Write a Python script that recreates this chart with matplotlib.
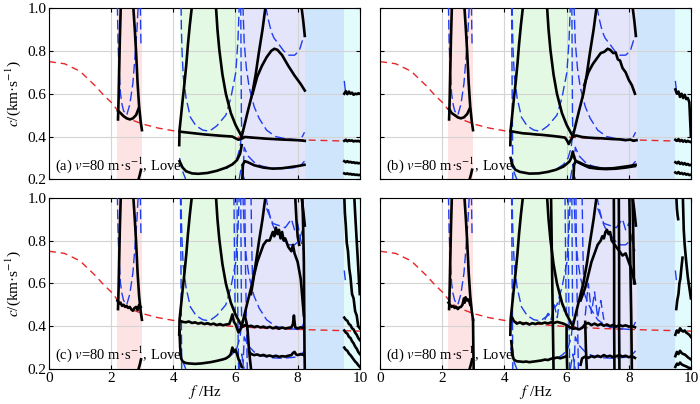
import matplotlib
matplotlib.use('Agg')
import matplotlib.pyplot as plt

plt.rcParams['font.family'] = ['Liberation Serif', 'DejaVu Serif']
plt.rcParams['mathtext.fontset'] = 'stix'

# ---- shared data -------------------------------------------------------
xticks = [0, 2, 4, 6, 8, 10]
yticks = [0.2, 0.4, 0.6, 0.8, 1.0]
panel_tags = ['(a)', '(b)', '(c)', '(d)']

band_lo = [2.2, 4.2, 6.2, 8.25, 9.5]
band_hi = [3.0, 6.2, 8.25, 9.5, 10.0]
band_colors = ['#fde3e3', '#e3f9e3', '#e4e4fb', '#cfe5fb', '#e2fbfd']

# fundamental-mode reference (red dashed)
ref_f = [0, 0.5, 1.0, 1.5, 1.75, 2.0, 2.25, 2.5, 3.0, 3.5, 4.0, 5.0, 6.0, 7.0, 8.0, 9.0, 10.0]
ref_c = [0.75, 0.74, 0.705, 0.635, 0.595, 0.56, 0.515, 0.487, 0.459, 0.44, 0.427, 0.41,
         0.398, 0.39, 0.385, 0.381, 0.377]

# black branches common to all panels
k_pink_up_f = [2.22, 2.24, 2.26, 2.28, 2.31]
k_pink_up_c = [0.48, 0.58, 0.72, 0.86, 1.01]
k_pink_down_f = [2.71, 2.76, 2.80, 2.85, 2.90, 2.95, 2.99]
k_pink_down_c = [1.01, 0.9, 0.8, 0.65, 0.54, 0.47, 0.43]
k_green_up_f = [4.19, 4.2, 4.25, 4.3, 4.36, 4.42, 4.47, 4.53, 4.6]
k_green_up_c = [0.36, 0.43, 0.5, 0.57, 0.65, 0.74, 0.83, 0.92, 1.01]
k_green_down_f = [5.37, 5.42, 5.48, 5.58, 5.69, 5.85, 6.0, 6.2]
k_green_down_c = [1.01, 0.9, 0.805, 0.69, 0.6, 0.51, 0.455, 0.40]
k_lav_up_f = [6.2, 6.3, 6.4, 6.54, 6.65, 6.75, 6.87, 6.97]
k_lav_up_c = [0.40, 0.46, 0.52, 0.6, 0.69, 0.79, 0.9, 1.01]
k_lav_edge_f = [8.12, 8.18, 8.23]
k_lav_edge_c = [1.01, 0.94, 0.87]
k_pink_bot_f = [2.88, 2.92, 2.96]
k_pink_bot_c = [0.2, 0.22, 0.245]

# blue dashed branches common to all panels
blue_pink_f = [2.2, 2.22, 2.26, 2.3, 2.35, 2.4, 2.5, 2.6, 2.7, 2.77, 2.83, 2.87]
blue_pink_c = [1.01, 0.85, 0.7, 0.6, 0.55, 0.52, 0.5, 0.55, 0.65, 0.78, 0.9, 1.01]
blue_pink2_f = [2.94, 2.95, 2.96]
blue_pink2_c = [1.01, 0.9, 0.82]
blue_u_f = [4.25, 4.26, 4.28, 4.32, 4.41, 4.55, 4.73, 4.95, 5.16, 5.4, 5.69, 5.85, 6.01, 6.08, 6.12]
blue_u_c = [1.01, 0.9, 0.8, 0.68, 0.58, 0.49, 0.45, 0.43, 0.425, 0.45, 0.50, 0.58, 0.70, 0.85, 1.01]
blue_glow_f = [4.2, 4.25, 4.32, 4.4]
blue_glow_c = [0.3, 0.26, 0.23, 0.2]
blue_glow2_f = [5.7, 5.9, 6.05, 6.15, 6.2]
blue_glow2_c = [0.25, 0.27, 0.3, 0.35, 0.42]
blue_x_f = [6.12, 6.2, 6.28]
blue_x_c = [0.2, 0.27, 0.2]
blue_vert_f = [6.17, 6.18, 6.19, 6.2]
blue_vert_c = [1.01, 0.75, 0.5, 0.42]
blue_lav_top_f = [6.97, 7.05, 7.15, 7.24, 7.4, 7.55, 7.72, 7.9, 8.05, 8.2]
blue_lav_top_c = [1.01, 0.95, 0.89, 0.86, 0.83, 0.8, 0.78, 0.78, 0.8, 0.87]
blue_lav_down_f = [6.24, 6.28, 6.35, 6.44, 6.6, 6.76, 7.0, 7.29, 7.6, 8.0, 8.15, 8.22]
blue_lav_down_c = [1.01, 0.84, 0.72, 0.63, 0.54, 0.485, 0.43, 0.40, 0.39, 0.385, 0.4, 0.42]
blue_lav_low_f = [6.24, 6.28, 6.4, 6.6, 6.8, 7.1, 7.5, 7.9, 8.1, 8.22]
blue_lav_low_c = [0.2, 0.35, 0.31, 0.28, 0.264, 0.253, 0.25, 0.255, 0.265, 0.285]
blue_cyan_f = [9.5, 9.53, 9.56]
blue_cyan_c = [0.66, 0.62, 0.6]

# extra blue dashed for the noisier panels
blue_wall_f = [4.23, 4.24, 4.25, 4.26, 4.27]
blue_wall_c = [1.01, 0.8, 0.6, 0.4, 0.2]
blue_v59_f = [5.95, 5.97, 5.99]
blue_v59_c = [1.01, 0.7, 0.45]
blue_v60_f = [6.05, 6.06, 6.08, 6.1]
blue_v60_c = [1.01, 0.7, 0.4, 0.2]
blue_v63_f = [6.3, 6.32, 6.35, 6.38]
blue_v63_c = [1.01, 0.7, 0.45, 0.2]
blue_v65_f = [6.5, 6.52, 6.55]
blue_v65_c = [1.01, 0.8, 0.6]
blue_noisy_top_f = [7.0, 7.2, 7.4, 7.6, 7.8, 7.9, 8.0, 8.1, 8.2]
blue_noisy_top_c = [0.95, 0.88, 0.87, 0.86, 0.9, 0.85, 0.88, 0.8, 0.75]
blue_spike_f = [5.3, 5.4, 5.5, 5.6, 5.7, 5.8, 5.9]
blue_spike_c = [0.43, 0.46, 0.43, 0.5, 0.44, 0.55, 0.47]
blue_spike2_f = [6.6, 6.7, 6.8, 6.9, 7.0, 7.1, 7.2]
blue_spike2_c = [0.45, 0.6, 0.46, 0.56, 0.44, 0.52, 0.43]

# cyan-band fragments share one frequency grid
cyan_f = [9.5, 9.55, 9.6, 9.65, 9.7, 9.75, 9.8, 9.85, 9.9, 9.95, 10.0]

# ---- panel (a) -----------------------------------------------------------
pa_pink_f = [2.22, 2.3, 2.4, 2.5, 2.6, 2.7, 2.8, 2.88]
pa_pink_c = [0.52, 0.51, 0.495, 0.485, 0.48, 0.485, 0.5, 0.53]
pa_flat_f = [4.2, 4.5, 5.0, 5.5, 5.9, 6.0, 6.1, 6.2, 6.3, 7.0, 7.5, 8.0, 8.23]
pa_flat_c = [0.423, 0.418, 0.41, 0.404, 0.40, 0.392, 0.385, 0.39, 0.398, 0.39, 0.386, 0.383, 0.38]
pa_low_f = [4.2, 4.3, 4.41, 4.6, 4.8, 5.1, 5.4, 5.7, 5.9, 6.05, 6.15, 6.2]
pa_low_c = [0.285, 0.255, 0.238, 0.228, 0.226, 0.23, 0.24, 0.255, 0.27, 0.29, 0.32, 0.36]
pa_low2_f = [6.22, 6.24, 6.3, 6.4, 6.6, 6.9, 7.2, 7.5, 7.8, 8.0, 8.22]
pa_low2_c = [0.2, 0.27, 0.285, 0.28, 0.266, 0.255, 0.25, 0.252, 0.258, 0.262, 0.268]
pa_hump_f = [6.55, 6.7, 6.85, 7.0, 7.15, 7.25, 7.35, 7.5, 7.7, 7.9, 8.1, 8.23]
pa_hump_c = [0.6, 0.68, 0.73, 0.77, 0.8, 0.81, 0.805, 0.78, 0.73, 0.685, 0.645, 0.615]
pa_cy1_c = [0.6, 0.612, 0.598, 0.61, 0.6, 0.605, 0.595, 0.6, 0.598, 0.602, 0.6]
pa_cy2_c = [0.38, 0.385, 0.378, 0.383, 0.38, 0.382, 0.377, 0.38, 0.378, 0.38, 0.377]
pa_cy3_c = [0.285, 0.28, 0.285, 0.28, 0.282, 0.278, 0.28, 0.276, 0.278, 0.275, 0.276]
pa_cy4_c = [0.228, 0.225, 0.228, 0.224, 0.226, 0.222, 0.224, 0.221, 0.222, 0.22, 0.221]

# ---- panel (b) -----------------------------------------------------------
pb_pink_f = [2.22, 2.3, 2.4, 2.5, 2.6, 2.7, 2.8, 2.88]
pb_pink_c = [0.53, 0.51, 0.5, 0.49, 0.485, 0.49, 0.505, 0.53]
pb_flat_f = [4.2, 4.4, 4.6, 4.8, 5.0, 5.2, 5.4, 5.6, 5.8, 5.95, 6.02, 6.07, 6.12, 6.2, 6.3,
             6.5, 6.7, 6.9, 7.1, 7.3, 7.5, 7.7, 7.9, 8.05, 8.15, 8.25]
pb_flat_c = [0.425, 0.42, 0.415, 0.413, 0.41, 0.408, 0.405, 0.402, 0.398, 0.395, 0.38, 0.365,
             0.38, 0.40, 0.405, 0.398, 0.395, 0.393, 0.392, 0.39, 0.388, 0.387, 0.383, 0.386,
             0.38, 0.383]
pb_low_f = [4.2, 4.25, 4.35, 4.5, 4.8, 5.1, 5.4, 5.66, 5.9, 6.09, 6.15, 6.2, 6.25, 6.3, 6.5,
            6.73, 7.0, 7.27, 7.6, 7.9, 8.2]
pb_low_c = [0.3, 0.27, 0.245, 0.235, 0.227, 0.228, 0.235, 0.245, 0.26, 0.283, 0.3, 0.33, 0.3,
            0.285, 0.27, 0.255, 0.25, 0.248, 0.25, 0.255, 0.262]
pb_hump_f = [6.57, 6.7, 6.85, 7.0, 7.1, 7.2, 7.25, 7.32, 7.4, 7.5, 7.58, 7.65, 7.72, 7.8, 7.9,
             8.0, 8.1, 8.2]
pb_hump_c = [0.64, 0.7, 0.74, 0.77, 0.79, 0.795, 0.8, 0.81, 0.805, 0.79, 0.792, 0.76, 0.755,
             0.72, 0.7, 0.665, 0.64, 0.6]
pb_cy1_c = [0.62, 0.6, 0.61, 0.585, 0.6, 0.58, 0.595, 0.575, 0.58, 0.56, 0.40]
pb_cy2_c = [0.385, 0.38, 0.388, 0.378, 0.384, 0.376, 0.382, 0.375, 0.38, 0.376, 0.374]
pb_cy3_c = [0.28, 0.275, 0.282, 0.272, 0.278, 0.27, 0.276, 0.268, 0.272, 0.266, 0.268]
pb_cy4_c = [0.232, 0.228, 0.234, 0.226, 0.23, 0.224, 0.228, 0.222, 0.225, 0.22, 0.222]

# ---- panel (c) -----------------------------------------------------------
pc_pink_f = [2.2, 2.25, 2.3, 2.35, 2.4, 2.45, 2.5, 2.55, 2.6, 2.65, 2.7, 2.75, 2.8, 2.85, 2.9, 2.95]
pc_pink_c = [0.52, 0.505, 0.51, 0.495, 0.5, 0.49, 0.495, 0.485, 0.49, 0.478, 0.472, 0.485,
             0.49, 0.475, 0.5, 0.49]
pc_flat_f = [4.22, 4.3, 4.4, 4.5, 4.6, 4.7, 4.8, 4.9, 5.0, 5.1, 5.2, 5.3, 5.4, 5.5, 5.6, 5.7,
             5.8, 5.85, 5.9, 5.95, 6.0, 6.05, 6.1, 6.15, 6.2, 6.3, 6.4, 6.5, 6.6, 6.7, 6.8,
             6.9, 7.0, 7.1, 7.2, 7.3, 7.4, 7.5, 7.6, 7.7, 7.8, 7.85, 7.88, 7.92, 8.0, 8.1, 8.2]
pc_flat_c = [0.425, 0.42, 0.418, 0.422, 0.415, 0.418, 0.412, 0.416, 0.41, 0.414, 0.408, 0.412,
             0.405, 0.41, 0.404, 0.408, 0.41, 0.43, 0.455, 0.42, 0.41, 0.39, 0.37, 0.385,
             0.395, 0.405, 0.398, 0.402, 0.396, 0.4, 0.394, 0.398, 0.392, 0.397, 0.39, 0.395,
             0.388, 0.394, 0.389, 0.392, 0.395, 0.41, 0.45, 0.395, 0.39, 0.395, 0.39]
pc_low_f = [4.2, 4.22, 4.25, 4.3, 4.4, 4.5, 4.6, 4.7, 4.8, 4.9, 5.0, 5.2, 5.4, 5.6, 5.7, 5.8,
            5.85, 5.9, 5.95, 6.0, 6.05, 6.1, 6.15, 6.2]
pc_low_c = [0.38, 0.3, 0.25, 0.235, 0.228, 0.226, 0.225, 0.224, 0.225, 0.226, 0.228, 0.232,
            0.238, 0.245, 0.25, 0.26, 0.27, 0.3, 0.28, 0.29, 0.27, 0.245, 0.23, 0.21]
pc_low2_f = [6.45, 6.5, 6.6, 6.7, 6.8, 6.9, 7.0, 7.1, 7.2, 7.3, 7.4, 7.5, 7.6, 7.7, 7.8, 7.85,
             7.9, 7.95, 8.0, 8.1, 8.2]
pc_low2_c = [0.28, 0.27, 0.265, 0.268, 0.262, 0.266, 0.26, 0.263, 0.258, 0.262, 0.257, 0.26,
             0.258, 0.262, 0.265, 0.275, 0.28, 0.268, 0.265, 0.27, 0.265]
pc_hump_f = [6.5, 6.6, 6.7, 6.8, 6.9, 7.0, 7.1, 7.2, 7.25, 7.3, 7.35, 7.4, 7.45, 7.5, 7.55,
             7.6, 7.7, 7.8, 7.85, 7.9, 8.0, 8.1, 8.2]
pc_hump_c = [0.55, 0.64, 0.7, 0.74, 0.78, 0.8, 0.8, 0.84, 0.82, 0.86, 0.83, 0.85, 0.81, 0.84,
             0.8, 0.81, 0.77, 0.75, 0.78, 0.74, 0.7, 0.62, 0.45]
pc_drop_f = [6.3, 6.38, 6.43, 6.47, 6.5]
pc_drop_c = [0.45, 0.4, 0.3, 0.24, 0.2]
pc_v82_f = [8.15, 8.18, 8.2, 8.21, 8.22, 8.23]
pc_v82_c = [1.01, 0.85, 0.7, 0.5, 0.3, 0.2]
pc_v79_f = [7.92, 7.96, 8.0, 8.05]
pc_v79_c = [1.01, 0.9, 0.82, 0.78]
pc_cyA_f = [9.5, 9.52, 9.55, 9.58, 9.62, 9.66, 9.7, 9.75, 9.8, 9.85, 9.9, 9.95, 10.0]
pc_cyA_c = [1.01, 0.93, 0.87, 0.79, 0.75, 0.67, 0.63, 0.55, 0.53, 0.47, 0.45, 0.4, 0.39]
pc_cyB_f = [9.82, 9.86, 9.9, 9.94, 9.97, 10.0]
pc_cyB_c = [1.01, 0.9, 0.8, 0.7, 0.62, 0.55]
pc_cyC_c = [0.44, 0.43, 0.425, 0.41, 0.405, 0.39, 0.385, 0.37, 0.36, 0.345, 0.335]
pc_cyD_c = [0.38, 0.37, 0.365, 0.35, 0.345, 0.33, 0.32, 0.305, 0.295, 0.28, 0.27]
pc_cyE_c = [0.3, 0.29, 0.285, 0.272, 0.265, 0.255, 0.245, 0.235, 0.228, 0.218, 0.21]

# ---- panel (d) -----------------------------------------------------------
pd_pink_f = [2.2, 2.25, 2.3, 2.35, 2.4, 2.45, 2.5, 2.55, 2.6, 2.65, 2.7, 2.72, 2.75, 2.8,
             2.85, 2.9]
pd_pink_c = [0.51, 0.5, 0.49, 0.495, 0.485, 0.49, 0.48, 0.488, 0.49, 0.5, 0.53, 0.51, 0.535,
             0.52, 0.525, 0.5]
pd_tail_f = [2.99, 3.0, 3.01]
pd_tail_c = [0.43, 0.3, 0.2]
pd_flat_f = [4.25, 4.3, 4.4, 4.5, 4.6, 4.7, 4.8, 4.9, 5.0, 5.1, 5.2, 5.3, 5.4, 5.5, 5.6, 5.7,
             5.8, 5.9, 6.0, 6.1, 6.2, 6.3, 6.4, 6.5, 6.6, 6.7, 6.8, 6.9, 7.0, 7.1, 7.2, 7.3,
             7.4, 7.5, 7.6, 7.7, 7.8, 7.9, 8.0, 8.1, 8.2]
pd_flat_c = [0.44, 0.425, 0.412, 0.418, 0.41, 0.415, 0.408, 0.414, 0.41, 0.416, 0.412, 0.417,
             0.413, 0.418, 0.415, 0.42, 0.416, 0.412, 0.405, 0.395, 0.388, 0.39, 0.385, 0.392,
             0.41, 0.415, 0.405, 0.412, 0.404, 0.41, 0.402, 0.408, 0.4, 0.406, 0.398, 0.405,
             0.4, 0.404, 0.398, 0.4, 0.395]
pd_low_f = [4.22, 4.24, 4.27, 4.3, 4.35, 4.4, 4.5, 4.6, 4.7, 4.8, 4.9, 5.0, 5.1, 5.2, 5.3,
            5.4, 5.5, 5.6, 5.7, 5.8, 5.9, 6.0]
pd_low_c = [0.33, 0.3, 0.26, 0.245, 0.24, 0.236, 0.235, 0.233, 0.235, 0.232, 0.234, 0.236,
            0.238, 0.24, 0.244, 0.242, 0.248, 0.25, 0.254, 0.25, 0.255, 0.26]
pd_low2_f = [6.45, 6.5, 6.6, 6.7, 6.8, 6.9, 7.0, 7.1, 7.2, 7.3, 7.4, 7.5, 7.6, 7.7, 7.8, 7.9,
             8.0, 8.1, 8.2]
pd_low2_c = [0.22, 0.25, 0.258, 0.252, 0.26, 0.255, 0.262, 0.256, 0.265, 0.258, 0.262, 0.255,
             0.26, 0.265, 0.258, 0.262, 0.255, 0.26, 0.252]
pd_hump_f = [6.45, 6.6, 6.7, 6.8, 6.9, 7.0, 7.1, 7.15, 7.2, 7.25, 7.3, 7.35, 7.4, 7.45, 7.5,
             7.6, 7.7, 7.8, 7.9, 8.0, 8.1, 8.2]
pd_hump_c = [0.52, 0.58, 0.64, 0.7, 0.74, 0.78, 0.8, 0.82, 0.81, 0.84, 0.85, 0.83, 0.84, 0.8,
             0.79, 0.77, 0.75, 0.73, 0.74, 0.7, 0.66, 0.6]
pd_v55_f = [5.5, 5.52, 5.54, 5.56, 5.58]
pd_v55_c = [1.01, 0.8, 0.6, 0.4, 0.2]
pd_v753_f = [7.52, 7.53, 7.53, 7.54]
pd_v753_c = [1.01, 0.7, 0.4, 0.2]
pd_v769_f = [7.68, 7.69, 7.69, 7.7]
pd_v769_c = [1.01, 0.7, 0.4, 0.2]
pd_v80_f = [8.02, 8.05, 8.08, 8.1]
pd_v80_c = [1.01, 0.7, 0.45, 0.2]
pd_v81_f = [8.12, 8.15, 8.17]
pd_v81_c = [1.01, 0.8, 0.6]
pd_v60_f = [6.0, 6.0, 6.02]
pd_v60_c = [0.4, 0.3, 0.2]
pd_v66_f = [6.6, 6.62, 6.65]
pd_v66_c = [0.42, 0.3, 0.2]
pd_cyA_f = [9.53, 9.55, 9.57, 9.59]
pd_cyA_c = [1.01, 0.95, 0.92, 0.9]
pd_cyB_f = [9.53, 9.56, 9.6, 9.63, 9.66, 9.7, 9.73]
pd_cyB_c = [0.48, 0.52, 0.55, 0.6, 0.62, 0.68, 0.72]
pd_cyC_f = [9.74, 9.77, 9.8, 9.85, 9.9, 9.95, 10.0]
pd_cyC_c = [1.01, 0.85, 0.78, 0.7, 0.63, 0.58, 0.53]
pd_cy2_c = [0.36, 0.38, 0.37, 0.39, 0.38, 0.375, 0.38, 0.37, 0.365, 0.36, 0.35]
pd_cy3_c = [0.26, 0.28, 0.27, 0.285, 0.275, 0.27, 0.268, 0.262, 0.255, 0.25, 0.245]
pd_cy4_c = [0.21, 0.225, 0.22, 0.23, 0.222, 0.218, 0.215, 0.212, 0.208, 0.205, 0.203]

common_black = [(k_pink_up_f, k_pink_up_c), (k_pink_down_f, k_pink_down_c),
                (k_green_up_f, k_green_up_c), (k_green_down_f, k_green_down_c),
                (k_lav_up_f, k_lav_up_c), (k_lav_edge_f, k_lav_edge_c),
                (k_pink_bot_f, k_pink_bot_c)]
common_blue = [(blue_pink_f, blue_pink_c), (blue_pink2_f, blue_pink2_c), (blue_u_f, blue_u_c),
               (blue_glow_f, blue_glow_c), (blue_glow2_f, blue_glow2_c), (blue_x_f, blue_x_c),
               (blue_vert_f, blue_vert_c), (blue_lav_top_f, blue_lav_top_c),
               (blue_lav_down_f, blue_lav_down_c), (blue_lav_low_f, blue_lav_low_c),
               (blue_cyan_f, blue_cyan_c)]
noisy_blue = [(blue_wall_f, blue_wall_c), (blue_v59_f, blue_v59_c), (blue_v60_f, blue_v60_c),
              (blue_v63_f, blue_v63_c), (blue_v65_f, blue_v65_c),
              (blue_noisy_top_f, blue_noisy_top_c)]

black_sets = [
    [(pa_pink_f, pa_pink_c), (pa_flat_f, pa_flat_c), (pa_low_f, pa_low_c),
     (pa_low2_f, pa_low2_c), (pa_hump_f, pa_hump_c), (cyan_f, pa_cy1_c), (cyan_f, pa_cy2_c),
     (cyan_f, pa_cy3_c), (cyan_f, pa_cy4_c)],
    [(pb_pink_f, pb_pink_c), (pb_flat_f, pb_flat_c), (pb_low_f, pb_low_c),
     (pb_hump_f, pb_hump_c), (cyan_f, pb_cy1_c), (cyan_f, pb_cy2_c), (cyan_f, pb_cy3_c),
     (cyan_f, pb_cy4_c), (pa_low2_f, pa_low2_c)],
    [(pc_pink_f, pc_pink_c), (pc_flat_f, pc_flat_c), (pc_low_f, pc_low_c),
     (pc_low2_f, pc_low2_c), (pc_hump_f, pc_hump_c), (pc_drop_f, pc_drop_c),
     (pc_v82_f, pc_v82_c), (pc_v79_f, pc_v79_c), (pc_cyA_f, pc_cyA_c), (pc_cyB_f, pc_cyB_c),
     (cyan_f, pc_cyC_c), (cyan_f, pc_cyD_c), (cyan_f, pc_cyE_c)],
    [(pd_pink_f, pd_pink_c), (pd_tail_f, pd_tail_c), (pd_flat_f, pd_flat_c),
     (pd_low_f, pd_low_c), (pd_low2_f, pd_low2_c), (pd_hump_f, pd_hump_c),
     (pd_v55_f, pd_v55_c), (pd_v753_f, pd_v753_c), (pd_v769_f, pd_v769_c),
     (pd_v80_f, pd_v80_c), (pd_v81_f, pd_v81_c), (pd_v60_f, pd_v60_c), (pd_v66_f, pd_v66_c),
     (pd_cyA_f, pd_cyA_c), (pd_cyB_f, pd_cyB_c), (pd_cyC_f, pd_cyC_c), (cyan_f, pd_cy2_c),
     (cyan_f, pd_cy3_c), (cyan_f, pd_cy4_c)],
]
blue_sets = [common_blue,
             common_blue + [(blue_wall_f, blue_wall_c)],
             common_blue + noisy_blue,
             common_blue + noisy_blue + [(blue_spike_f, blue_spike_c),
                                         (blue_spike2_f, blue_spike2_c)]]

fig = plt.figure(figsize=(7.0, 4.04), dpi=100)
lefts = [0.07, 0.543, 0.07, 0.543]
bottoms = [0.556, 0.556, 0.0866, 0.0866]

for i in range(4):
    ax = fig.add_axes([lefts[i], bottoms[i], 0.444, 0.424])
    for lo, hi, col in zip(band_lo, band_hi, band_colors):
        ax.axvspan(lo, hi, color=col, lw=0, zorder=0)
    ax.grid(True, color='#d4d4d4', lw=0.8, zorder=1)
    ax.plot(ref_f, ref_c, color='#e8262a', lw=1.0, dashes=(5, 3.5), zorder=2)
    for f, c in blue_sets[i]:
        ax.plot(f, c, color='#1f3df0', lw=1.0, dashes=(7, 3), zorder=3)
    for f, c in common_black + black_sets[i]:
        ax.plot(f, c, color='black', lw=1.9, zorder=4)

    ax.set_xlim(0, 10)
    ax.set_ylim(0.2, 1.0)
    ax.set_xticks(xticks)
    ax.set_yticks(yticks)
    ax.tick_params(direction='in', top=True, right=True, labelsize=11, length=3, pad=2)
    if i < 2:
        ax.set_xticklabels([])
    else:
        ax.set_xticklabels([str(t) for t in xticks])
        ax.set_xlabel('$f$ /Hz', fontsize=11, labelpad=-1)
    if i % 2 == 1:
        ax.set_yticklabels([])
    else:
        ax.set_yticklabels(['%.1f' % t for t in yticks])
        ax.set_ylabel('$c$/(km·s$^{-1}$)', fontsize=11, labelpad=3)
    ax.text(0.02, 0.085, panel_tags[i] + ' $v$=80 m·s$^{-1}$, Love', transform=ax.transAxes,
            fontsize=10.5, va='center', ha='left', zorder=6)

fig.savefig('out.png', dpi=100)
